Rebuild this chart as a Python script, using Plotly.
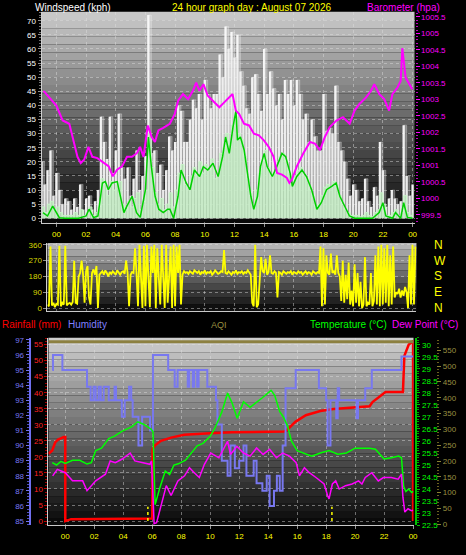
import plotly.graph_objects as go

W, H = 466, 555

# ---------------- DATA ----------------
# Top panel: wind speed (kph) sampled every 12 minutes, hours relative to midnight
wind_h = [-1.0, -0.8, -0.6, -0.4, -0.2,
          0.0, 0.2, 0.4, 0.6, 0.8, 1.0, 1.2, 1.4, 1.6, 1.8, 2.0, 2.2, 2.4, 2.6, 2.8,
          3.0, 3.2, 3.4, 3.6, 3.8, 4.0, 4.2, 4.4, 4.6, 4.8, 5.0, 5.2, 5.4, 5.6, 5.8,
          6.0, 6.2, 6.4, 6.6, 6.8, 7.0, 7.2, 7.4, 7.6, 7.8, 8.0, 8.2, 8.4, 8.6, 8.8,
          9.0, 9.2, 9.4, 9.6, 9.8, 10.0, 10.2, 10.4, 10.6, 10.8, 11.0, 11.2, 11.4, 11.6, 11.8,
          12.0, 12.2, 12.4, 12.6, 12.8, 13.0, 13.2, 13.4, 13.6, 13.8, 14.0, 14.2, 14.4, 14.6, 14.8,
          15.0, 15.2, 15.4, 15.6, 15.8, 16.0, 16.2, 16.4, 16.6, 16.8, 17.0, 17.2, 17.4, 17.6, 17.8,
          18.0, 18.2, 18.4, 18.6, 18.8, 19.0, 19.2, 19.4, 19.6, 19.8, 20.0, 20.2, 20.4, 20.6, 20.8,
          21.0, 21.2, 21.4, 21.6, 21.8, 22.0, 22.2, 22.4, 22.6, 22.8, 23.0, 23.2, 23.4, 23.6, 23.8,
          24.0]
wind_gust = [20, 12, 17, 24, 8,
             16, 10, 5, 7, 6, 3, 7, 4, 12, 3, 7, 8, 3, 6, 10,
             36, 27, 21, 36, 16, 24, 37, 18, 14, 18, 8, 14, 24, 10, 15,
             22, 72, 23, 24, 16, 19, 10, 17, 29, 24, 27, 40, 38, 27, 27,
             35, 42, 39, 44, 35, 49, 44, 39, 44, 44, 58, 50, 68, 60, 66,
             57, 65, 52, 47, 39, 37, 50, 51, 44, 38, 60, 44, 52, 46, 40,
             44, 35, 49, 44, 49, 40, 49, 44, 35, 37, 27, 35, 29, 24, 24,
             44, 31, 32, 30, 47, 27, 24, 20, 14, 8, 12, 10, 6, 7, 14,
             6, 4, 11, 8, 27, 17, 4, 7, 10, 7, 5, 6, 33, 15, 8,
             12]
wind_avg = [4, 2, 5, 6, 3,
            4, 2, 1, 1, 1, 1, 2, 1, 3, 1, 2, 4, 1, 2, 4,
            14, 12, 8, 13, 10, 12, 13, 5, 3, 6, 4, 7, 9, 3, 6,
            10, 30, 18, 9, 5, 7, 3, 5, 9, 4, 10, 16, 19, 12, 11,
            15, 18, 15, 20, 16, 19, 17, 21, 14, 15, 23, 25, 30, 26, 33,
            36, 30, 28, 22, 14, 9, 5, 10, 16, 20, 24, 18, 15, 16, 19,
            22, 23, 20, 16, 12, 15, 17, 18, 15, 14, 10, 8, 4, 5, 8,
            11, 12, 11, 13, 12, 8, 5, 3, 2, 1, 1, 1, 0.5, 1, 2,
            1, 0.5, 2, 3, 9, 5, 1, 1, 2, 3, 1, 2, 8, 2, 1,
            2]
# 10-minute average line
wind10_h = [-0.9, -0.6, -0.25, 0.0, 0.2, 0.6, 1.1, 1.5, 2.0, 2.2, 2.5, 2.8, 3.1, 3.3, 3.5, 3.75,
            4.1, 4.3, 4.55, 4.75, 5.1, 5.4, 5.65, 6.0, 6.2, 6.4, 6.65, 6.9, 7.2, 7.5, 7.65, 7.9,
            8.2, 8.4, 8.75, 9.0, 9.3, 9.65, 9.9, 10.2, 10.55, 10.9, 11.2, 11.4, 11.65, 11.9, 12.1,
            12.2, 12.4, 12.65, 12.9, 13.1, 13.3, 13.55, 13.75, 14.0, 14.2, 14.55, 14.85, 15.2, 15.45,
            15.75, 15.9, 16.2, 16.55, 16.85, 17.2, 17.55, 17.85, 18.2, 18.55, 18.85, 19.1, 19.4,
            19.75, 20.1, 20.6, 21.3, 21.75, 22.0, 22.2, 22.65, 22.85, 23.2, 23.4, 23.65, 24.0]
wind10_kph = [2.0, 0.8, 4.3, 2.0, 0.2, 0, 0, 0, 0.8, 3.2, 0.2, 0.8, 12.5, 13, 10.1, 12.5,
              13, 7.8, 2.0, 4.3, 7.8, 2.0, 0.3, 10.1, 28.8, 18.3, 7.8, 3.2, 2.0, 3.2, 3.2, 0,
              7.8, 17.1, 12.5, 10.1, 17.1, 14.8, 18.3, 17.1, 19.5, 14.8, 21.8, 28.8, 23, 32.3, 38.2,
              27.7, 28.8, 24.2, 14.8, 7.8, 3.2, 7.8, 18.3, 23, 18.3, 14.8, 18.3, 23, 21.8,
              16, 11.3, 14.8, 17.1, 14.8, 10.1, 3.2, 5.5, 10.1, 11.3, 12.5, 7.8, 4.3,
              0.8, 0, 0, 0, 2.0, 5.5, 0.8, 0, 2.0, 0, 5.5, 0.3, 0]
# Barometer (hPa)
baro_h = [-0.87, -0.47, 0.0, 0.42, 0.87, 1.09, 1.42, 1.64, 1.87, 2.16, 2.42, 2.76, 3.2, 3.53, 3.8,
          4.09, 4.42, 4.76, 5.09, 5.42, 5.64, 5.87, 6.16, 6.42, 6.64, 6.87, 7.2, 7.49, 7.64, 7.98,
          8.2, 8.53, 8.87, 9.2, 9.42, 9.64, 9.91, 10.2, 10.53, 10.98, 11.31, 11.64, 11.87, 12.09,
          12.31, 12.64, 12.98, 13.31, 13.64, 13.98, 14.31, 14.64, 14.87, 15.2, 15.53, 15.7, 15.87,
          16.2, 16.64, 17.09, 17.42, 17.76, 18.09, 18.42, 18.87, 19.31, 19.76, 20.09, 20.42, 20.87,
          21.2, 21.42, 21.76, 22.09, 22.42, 22.64, 22.98, 23.2, 23.31, 23.53, 23.76, 23.98]
baro_hpa = [1003.26, 1003.06, 1002.81, 1002.36, 1002.26, 1001.86, 1001.26, 1001.07, 1001.17, 1001.56,
            1001.26, 1001.22, 1001.07, 1000.97, 1000.67, 1000.87, 1000.97, 1001.26, 1001.26, 1001.37,
            1001.56, 1001.26, 1002.21, 1001.86, 1001.71, 1002.06, 1002.14, 1002.21, 1002.26, 1002.56,
            1002.96, 1003.16, 1003.01, 1003.26, 1003.51, 1003.26, 1003.46, 1003.11, 1002.96, 1002.76,
            1002.91, 1003.06, 1003.16, 1002.66, 1002.56, 1002.26, 1002.21, 1001.96, 1001.91, 1001.76,
            1001.56, 1001.26, 1000.77, 1000.72, 1000.62, 1000.47, 1000.57, 1000.97, 1001.37, 1001.71,
            1001.66, 1001.46, 1001.86, 1002.16, 1002.36, 1002.46, 1002.26, 1002.66, 1002.86, 1003.06,
            1003.26, 1003.46, 1003.16, 1003.01, 1002.66, 1003.16, 1003.36, 1003.56, 1004.55, 1003.66,
            1003.46, 1003.31]

# Wind direction (degrees), every 6 minutes
dir_h = [-0.6, -0.5, -0.4, -0.3, -0.2, -0.1,
         0.0, 0.1, 0.2, 0.3, 0.4, 0.5, 0.6, 0.7, 0.8, 0.9,
         1.0, 1.1, 1.2, 1.3, 1.4, 1.5, 1.6, 1.7, 1.8, 1.9,
         2.0, 2.1, 2.2, 2.3, 2.4, 2.5, 2.6, 2.7, 2.8, 2.9,
         3.0, 3.1, 3.2, 3.3, 3.4, 3.5, 3.6, 3.7, 3.8, 3.9,
         4.0, 4.1, 4.2, 4.3, 4.4, 4.5, 4.6, 4.7, 4.8, 4.9,
         5.0, 5.1, 5.2, 5.3, 5.4, 5.5, 5.6, 5.7, 5.8, 5.9,
         6.0, 6.1, 6.2, 6.3, 6.4, 6.5, 6.6, 6.7, 6.8, 6.9,
         7.0, 7.1, 7.2, 7.3, 7.4, 7.5, 7.6, 7.7, 7.8, 7.9,
         8.0, 8.1, 8.2, 8.3, 8.4, 8.5, 8.6, 8.7, 8.8, 8.9,
         9.0, 9.1, 9.2, 9.3, 9.4, 9.5, 9.6, 9.7, 9.8, 9.9,
         10.0, 10.1, 10.2, 10.3, 10.4, 10.5, 10.6, 10.7, 10.8, 10.9,
         11.0, 11.1, 11.2, 11.3, 11.4, 11.5, 11.6, 11.7, 11.8, 11.9,
         12.0, 12.1, 12.2, 12.3, 12.4, 12.5, 12.6, 12.7, 12.8, 12.9,
         13.0, 13.1, 13.2, 13.3, 13.4, 13.5, 13.6, 13.7, 13.8, 13.9,
         14.0, 14.1, 14.2, 14.3, 14.4, 14.5, 14.6, 14.7, 14.8, 14.9,
         15.0, 15.1, 15.2, 15.3, 15.4, 15.5, 15.6, 15.7, 15.8, 15.9,
         16.0, 16.1, 16.2, 16.3, 16.4, 16.5, 16.6, 16.7, 16.8, 16.9,
         17.0, 17.1, 17.2, 17.3, 17.4, 17.5, 17.6, 17.7, 17.8, 17.9,
         18.0, 18.1, 18.2, 18.3, 18.4, 18.5, 18.6, 18.7, 18.8, 18.9,
         19.0, 19.1, 19.2, 19.3, 19.4, 19.5, 19.6, 19.7, 19.8, 19.9,
         20.0, 20.1, 20.2, 20.3, 20.4, 20.5, 20.6, 20.7, 20.8, 20.9,
         21.0, 21.1, 21.2, 21.3, 21.4, 21.5, 21.6, 21.7, 21.8, 21.9,
         22.0, 22.1, 22.2, 22.3, 22.4, 22.5, 22.6, 22.7, 22.8, 22.9,
         23.0, 23.1, 23.2, 23.3, 23.4, 23.5, 23.6, 23.7, 23.8, 23.9,
         24.0, 24.1, 24.2]
dir_deg = [20, 10, 350, 15, 30, 5,
           25, 20, 355, 10, 30, 20, 355, 15, 25, 30,
           20, 35, 270, 30, 25, 180, 200, 270, 190, 30,
           210, 240, 60, 20, 200, 220, 190, 240, 0, 190,
           200, 210, 190, 215, 200, 180, 205, 195, 210, 200,
           190, 215, 200, 190, 205, 210, 195, 270, 200, 10,
           190, 205, 200, 340, 200, 10, 360, 200, 0, 355,
           10, 360, 180, 5, 350, 200, 360, 0, 340, 190,
           20, 360, 200, 0, 360, 30, 180, 350, 0, 360,
           10, 350, 200, 360, 20, 190, 210, 200, 205, 195,
           210, 200, 195, 215, 205, 200, 210, 190, 205, 200,
           215, 195, 205, 200, 210, 190, 200, 215, 205, 195,
           200, 210, 205, 330, 200, 195, 210, 200, 190, 205,
           200, 215, 195, 205, 200, 210, 195, 205, 200, 215,
           200, 190, 30, 10, 360, 5, 20, 200, 290, 210,
           200, 280, 190, 205, 300, 200, 195, 210, 200, 60,
           205, 200, 190, 210, 200, 195, 205, 200, 210, 190,
           205, 200, 195, 210, 200, 205, 190, 200, 210, 195,
           205, 200, 190, 210, 200, 195, 205, 200, 350, 10,
           340, 20, 300, 200, 190, 310, 200, 210, 190, 300,
           200, 180, 40, 270, 30, 190, 50, 260, 20, 100,
           10, 250, 30, 200, 10, 150, 0, 20, 290, 10,
           30, 20, 200, 10, 40, 300, 20, 350, 10, 360,
           20, 340, 30, 360, 10, 300, 20, 350, 60, 90,
           80, 110, 60, 100, 70, 120, 90, 0, 300, 20,
           360, 20, 350]
compass = ["N", "W", "S", "E", "N"]
compass_deg = [360, 270, 180, 90, 0]

# Bottom panel
rain_h = [-1.16, -0.9, -0.7, -0.5, -0.1, 0.0, 0.0, 0.4, 6.0, 6.02, 6.2, 6.6, 7.3, 8.2, 10.0, 11.5,
          15.1, 15.3, 15.9, 16.6, 17.6, 18.5, 21.0, 21.2, 22.1, 23.3, 23.4, 23.7, 23.95, 24.0, 24.0]
rain_mm = [21.0, 22.0, 24.5, 25.4, 26.2, 26.2, 0.0, 0.6, 0.8, 22.5, 23.6, 25.0, 26.0, 26.9, 27.4, 27.7,
           27.9, 28.4, 31.0, 33.0, 34.3, 34.9, 35.8, 37.1, 40.2, 40.2, 51.5, 55.0, 55.8, 56.3, 0.0]
hum_h = [-0.9, -0.85, -0.2, 1.5, 1.75, 1.95, 2.1, 2.3, 2.45, 2.65, 3.0, 3.4, 3.5, 3.9, 4.1, 4.4,
         4.55, 4.65, 5.05, 5.3, 5.85, 6.05, 7.1, 7.55, 7.75, 8.45, 8.55, 8.8, 8.9, 9.1, 9.2, 9.8,
         10.4, 10.5, 10.8, 11.2, 11.4, 11.7, 12.0, 12.3, 12.5, 13.0, 13.2, 13.6, 13.9, 14.1, 14.4,
         14.6, 14.8, 15.0, 15.2, 15.9, 17.5, 18.0, 18.1, 18.3, 18.7, 18.8, 18.9, 20.1, 20.2, 20.7,
         21.15, 23.2, 24.0]
hum_pct = [95.0, 96.0, 95.0, 93.9, 93.0, 93.9, 93.0, 93.9, 93.0, 93.9, 93.0, 93.9, 93.0, 91.9, 93.0, 93.9,
           93.0, 91.9, 90.0, 91.9, 91.0, 96.0, 95.0, 93.9, 95.0, 93.9, 95.0, 93.9, 95.0, 93.9, 95.0, 93.9,
           93.0, 91.4, 89.0, 88.0, 90.0, 88.5, 89.0, 90.0, 88.0, 89.0, 87.5, 87.0, 88.0, 86.0, 87.0,
           88.0, 87.0, 90.0, 93.8, 95.0, 93.8, 93.0, 90.0, 93.0, 91.8, 93.8, 93.0, 91.8, 93.0, 93.8,
           95.0, 95.9, 95.9]
temp_h = [-0.9, -0.6, -0.3, 0.0, 0.5, 1.0, 1.5, 1.8, 2.1, 2.5, 3.0, 3.4, 3.9, 4.2, 4.6, 5.0, 5.4, 5.9,
          6.05, 6.2, 6.5, 6.9, 7.2, 7.5, 7.8, 8.3, 8.7, 9.1, 9.5, 10.0, 10.3, 10.8, 11.2, 11.5, 11.86,
          12.3, 12.75, 13.2, 13.6, 14.2, 14.45, 14.8, 15.05, 15.35, 15.6, 16.0, 16.5, 17.0, 17.6, 18.2,
          18.8, 19.4, 20.0, 20.6, 21.0, 21.4, 22.0, 22.5, 23.0, 23.2, 23.35, 23.5, 23.7, 23.9, 24.0]
temp_c = [25.1, 25.0, 25.15, 25.07, 25.2, 25.2, 25.04, 25.1, 25.6, 25.7, 26.1, 26.2, 26.4, 26.5, 26.6,
          26.8, 26.7, 26.5, 26.4, 23.35, 24.0, 24.75, 24.6, 25.0, 25.05, 25.2, 25.5, 25.8, 25.9, 26.2,
          26.5, 27.2, 28.0, 27.6, 26.95, 27.63, 27.4, 27.6, 27.8, 28.11, 27.9, 27.22, 27.0, 26.6, 26.0,
          25.6, 25.5, 25.37, 25.5, 25.6, 25.45, 25.5, 25.7, 25.7, 25.7, 25.66, 25.25, 25.3, 25.37, 25.3,
          24.1, 23.9, 24.0, 23.86, 23.9]
dew_h = [-0.87, -0.55, 0.0, 0.5, 1.2, 1.5, 2.1, 2.77, 3.1, 3.45, 3.9, 4.48, 4.8, 5.27, 5.84, 5.95,
         6.13, 6.3, 6.63, 6.97, 7.3, 7.77, 8.23, 8.57, 8.9, 9.25, 9.6, 10.04, 10.6, 11.2, 11.4, 11.84,
         12.3, 12.75, 13.2, 13.65, 14.1, 14.57, 15.0, 15.47, 15.93, 16.16, 16.5, 16.84, 17.3, 17.63,
         17.86, 18.1, 18.2, 18.43, 18.66, 18.9, 19.34, 19.79, 20.24, 20.47, 20.7, 21.15, 21.6, 21.95,
         22.5, 22.97, 23.2, 23.3, 23.43, 23.65, 23.88, 24.0]
dew_c = [24.55, 24.82, 24.68, 24.34, 24.34, 23.93, 24.34, 24.62, 25.17, 25.1, 25.24, 25.5, 25.17, 25.1,
         25.03, 25.17, 22.56, 22.6, 23.39, 24.14, 23.73, 24.34, 24.55, 24.89, 24.68, 24.48, 25.03, 25.5,
         25.3, 25.99, 25.44, 25.78, 25.5, 25.37, 25.71, 25.44, 25.65, 25.3, 25.5, 25.37, 25.1, 24.55,
         24.89, 24.68, 24.48, 24.34, 24.21, 23.73, 23.59, 24.21, 24.34, 24.0, 24.14, 24.21, 24.34, 24.21,
         24.48, 24.68, 24.34, 24.48, 24.48, 24.41, 24.62, 23.66, 23.04, 23.18, 23.1, 23.12]
aqi_h = [-1.16, 24.03]
aqi_val = [577, 577]
sun_events_h = [5.7, 18.4]

hour_ticks = [0, 2, 4, 6, 8, 10, 12, 14, 16, 18, 20, 22, 24]
hour_labels = ["00", "02", "04", "06", "08", "10", "12", "14", "16", "18", "20", "22", "00"]
baro_ticks = [999.5, 1000, 1000.5, 1001, 1001.5, 1002, 1002.5, 1003, 1003.5, 1004, 1004.5, 1005, 1005.5]

# ---------------- FIGURE ----------------
def px(x):
    return x / W

def py(y):
    return 1 - y / H

FONT = "Liberation Sans, Arial, sans-serif"
fig = go.Figure()

# top panel
fig.add_trace(go.Bar(x=wind_h, y=wind_gust, width=0.16, xaxis="x", yaxis="y",
                     marker=dict(color="rgba(255,255,255,0.92)", line=dict(width=0)), hoverinfo="skip"))
fig.add_trace(go.Scatter(x=wind_h, y=wind_gust, mode="lines", xaxis="x", yaxis="y",
                         line=dict(color="rgba(255,255,255,0.5)", width=0.5, shape="hv"),
                         fill="tozeroy", fillcolor="rgba(225,225,225,0.35)", hoverinfo="skip"))
fig.add_trace(go.Scatter(x=wind_h, y=wind_avg, mode="lines", xaxis="x", yaxis="y",
                         line=dict(color="rgba(200,245,200,0.95)", width=1, shape="hv"),
                         fill="tozeroy", fillcolor="rgba(190,235,190,0.75)", hoverinfo="skip"))
fig.add_trace(go.Scatter(x=wind10_h, y=wind10_kph, mode="lines", xaxis="x", yaxis="y",
                         line=dict(color="#00d000", width=1.5), hoverinfo="skip"))
fig.add_trace(go.Scatter(x=baro_h, y=baro_hpa, mode="lines", xaxis="x", yaxis="y2",
                         line=dict(color="#ff00ff", width=2), hoverinfo="skip"))
# wind direction
fig.add_trace(go.Scatter(x=dir_h, y=dir_deg, mode="lines", xaxis="x2", yaxis="y3",
                         line=dict(color="#ffff00", width=1.8), hoverinfo="skip"))
# bottom panel
fig.add_trace(go.Scatter(x=hum_h, y=hum_pct, mode="lines", xaxis="x3", yaxis="y5",
                         line=dict(color="#7878f0", width=2, shape="hv"), hoverinfo="skip"))
fig.add_trace(go.Scatter(x=temp_h, y=temp_c, mode="lines", xaxis="x3", yaxis="y6",
                         line=dict(color="#00ff00", width=1.5), hoverinfo="skip"))
fig.add_trace(go.Scatter(x=dew_h, y=dew_c, mode="lines", xaxis="x3", yaxis="y6",
                         line=dict(color="#ff00ff", width=1.5), hoverinfo="skip"))
fig.add_trace(go.Scatter(x=rain_h, y=rain_mm, mode="lines", xaxis="x3", yaxis="y4",
                         line=dict(color="#ff0000", width=2.5), hoverinfo="skip"))
fig.add_trace(go.Scatter(x=aqi_h, y=aqi_val, mode="lines", xaxis="x3", yaxis="y7",
                         line=dict(color="#8c8040", width=3), hoverinfo="skip"))
for h in sun_events_h:
    fig.add_trace(go.Scatter(x=[h, h], y=[0, 4.5], mode="lines", xaxis="x3", yaxis="y4",
                             line=dict(color="#ffff00", width=1.5, dash="dot"), hoverinfo="skip"))

# gradient backgrounds
shapes = []
def gradient(x0, x1, y0, y1, ctop, cbot, n=26):
    step = (y1 - y0) / n
    for i in range(n):
        c = int(round(ctop + (cbot - ctop) * i / (n - 1)))
        shapes.append(dict(type="rect", xref="paper", yref="paper", layer="below",
                           x0=px(x0), x1=px(x1), y0=py(y0 + i * step), y1=py(y0 + (i + 1) * step),
                           line=dict(width=0), fillcolor=f"rgb({c},{c},{c})"))

gradient(42, 419, 10, 224, 200, 8)
gradient(48, 421, 244, 313, 180, 16, n=10)
gradient(49, 418, 340, 530, 205, 10)

grid = "rgba(225,225,225,0.45)"
tick_font = dict(family=FONT, size=8)

def xax(domain, rng, anchor, labels=True):
    return dict(domain=domain, range=rng, anchor=anchor, tickvals=hour_ticks, ticktext=hour_labels,
                showticklabels=labels, tickfont=dict(tick_font, color="#ffff00"),
                showgrid=True, gridcolor=grid, griddash="dot", gridwidth=1,
                showline=True, linecolor="#c8c8c8", linewidth=1, zeroline=False,
                ticks="outside" if labels else "", ticklen=3, tickcolor="#909090")

layout = dict(
    width=W, height=H, margin=dict(l=0, r=0, t=0, b=0),
    paper_bgcolor="black", plot_bgcolor="rgba(0,0,0,0)", showlegend=False,
    font=dict(family=FONT, size=8, color="white"), barmode="overlay", hovermode=False,
    xaxis=xax([px(42), px(419)], [-1.0, 24.13], "y"),
    xaxis2=xax([px(48), px(421)], [-0.6, 24.27], "y3", labels=False),
    xaxis3=xax([px(49), px(418)], [-1.16, 24.03], "y4"),
    yaxis=dict(domain=[py(224), py(10)], range=[-1.75, 73.15], anchor="x", tick0=0, dtick=5,
               tickfont=dict(tick_font, color="white"), showgrid=True, gridcolor=grid, griddash="dot",
               showline=True, linecolor="#d0d0d0", zeroline=False, ticks="outside", ticklen=3,
               tickcolor="#909090", minor=dict(dtick=1, ticklen=2, tickcolor="#707070", ticks="outside")),
    yaxis2=dict(overlaying="y", side="right", anchor="x", range=[999.25, 1005.65],
                tickvals=baro_ticks, ticktext=[f"{v:g}" for v in baro_ticks],
                tickfont=dict(tick_font, color="#ff00ff"), showgrid=False, zeroline=False,
                showline=False, ticks="outside", ticklen=4, tickcolor="#ff00ff",
                minor=dict(dtick=0.1, ticklen=2, tickcolor="#c000c0", ticks="outside")),
    yaxis3=dict(domain=[py(313), py(244)], range=[-16.9, 371], anchor="x2",
                tickvals=[0, 90, 180, 270, 360], tickfont=dict(tick_font, color="#d8d800"),
                showgrid=True, gridcolor=grid, griddash="dot", showline=True, linecolor="#d0d0d0",
                zeroline=False, ticks="outside", ticklen=3, tickcolor="#909090"),
    yaxis4=dict(domain=[py(530), py(340)], range=[-1.32, 57.14], anchor="x3", tick0=0, dtick=5,
                tickfont=dict(tick_font, color="#ff2020"), showgrid=True, gridcolor=grid, griddash="dot",
                showline=True, linecolor="#d0d0d0", zeroline=False, ticks="outside", ticklen=3,
                tickcolor="#c00000", minor=dict(dtick=1, ticklen=2, tickcolor="#a00000", ticks="outside")),
    yaxis5=dict(overlaying="y4", anchor="free", position=px(30), side="left", range=[84.72, 97.14],
                dtick=1, tickfont=dict(tick_font, color="#7878f0"), showgrid=False, zeroline=False,
                showline=True, linecolor="#7070f0", linewidth=2, ticks="outside", ticklen=3,
                tickcolor="#7070f0", minor=dict(dtick=0.2, ticklen=2, tickcolor="#5050c0", ticks="outside")),
    yaxis6=dict(overlaying="y4", anchor="free", position=px(421), side="right", range=[22.49, 30.30],
                dtick=0.5, tick0=23, tickfont=dict(tick_font, color="#00ff00"), showgrid=False,
                zeroline=False, showline=True, linecolor="#00c000", linewidth=2, ticks="outside",
                ticklen=3, tickcolor="#00c000",
                minor=dict(dtick=0.1, ticklen=2, tickcolor="#00a000", ticks="outside")),
    yaxis7=dict(overlaying="y4", anchor="free", position=px(441), side="right", range=[-3.1, 589.5],
                dtick=50, tick0=0, tickfont=dict(tick_font, color="#9a9040"), showgrid=False,
                zeroline=False, showline=False, ticks="outside", ticklen=4, tickcolor="#8a8030",
                minor=dict(dtick=10, ticklen=2, tickcolor="#6a6020", ticks="outside")),
    shapes=shapes,
)
fig.update_layout(**layout)

ann = []
def label(text, x, y, color, size=10, anchor="left"):
    ann.append(dict(text=text, x=px(x), y=py(y), xref="paper", yref="paper", xanchor=anchor,
                    yanchor="middle", showarrow=False, font=dict(family=FONT, size=size, color=color)))

label("Windspeed (kph)", 33, 6, "white")
label("24 hour graph day : August 07 2026", 172, 6, "#ffff00")
label("Barometer (hpa)", 447, 6, "#ff00ff", anchor="right")
label("Rainfall (mm)", 0, 327, "#ff0000")
label("Humidity", 67, 327, "#8080ff")
label("AQI", 211, 327, "#9a9040", size=9)
label("Temperature (°C)", 393, 327, "#00ff00", anchor="right")
label("Dew Point (°C)", 465, 327, "#ff00ff", anchor="right")
for t, d in zip(compass, compass_deg):
    ann.append(dict(text=t, x=px(437), y=d, xref="paper", yref="y3", xanchor="left", yanchor="middle",
                    showarrow=False, font=dict(family=FONT, size=12, color="#ffff00")))
fig.update_layout(annotations=ann)

fig.write_html("out.html", config={"displayModeBar": False, "staticPlot": True},
               post_script="document.body.style.margin='0px';")
